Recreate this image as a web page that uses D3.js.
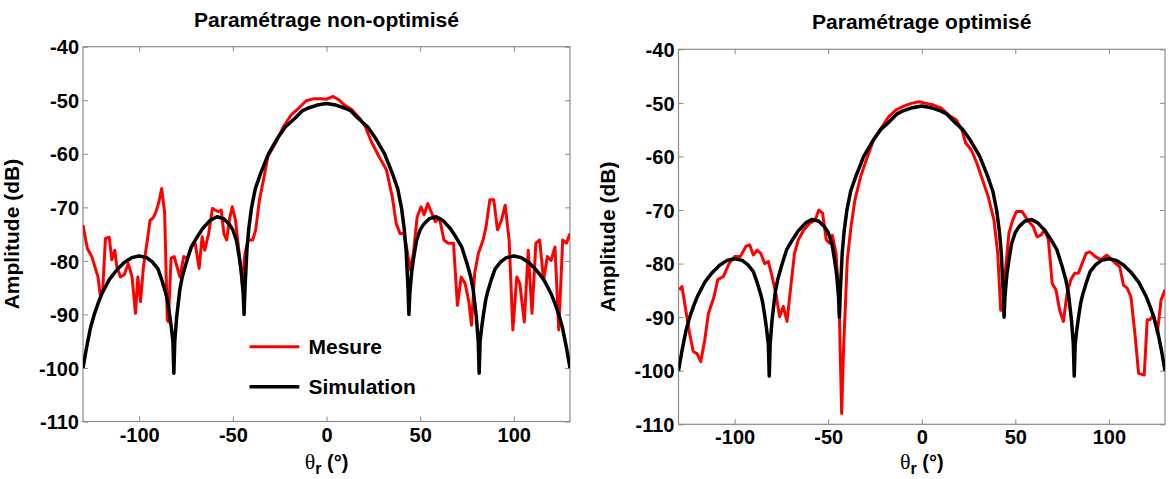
<!DOCTYPE html>
<html><head><meta charset="utf-8">
<script src="https://cdn.jsdelivr.net/npm/d3@7"></script>
<style>
html,body{margin:0;padding:0;background:#fff;}
svg{display:block;}
text{font-family:"Liberation Sans",Arial,sans-serif;font-weight:bold;fill:#000;}
</style></head>
<body>
<svg id="chart" width="1169" height="479"></svg>
<script>
// ---------- data ----------
const titles = ["Paramétrage non-optimisé", "Paramétrage optimisé"];
const yLabel = "Amplitude (dB)";
const legendLabels = ["Mesure", "Simulation"];
const xTicks = [-100, -50, 0, 50, 100];
const yTicks = [-40, -50, -60, -70, -80, -90, -100, -110];
const xDomain = [-130, 130];
const yDomain = [-110, -40];

// Simulation (same in both panels)
const simTheta = [-130,-128,-126,-124,-122,-120,-116,-112,-108,-104,-100,-96,-93,-90,-88,-86,-85,-84,-83,-82,-81.5,-81,-80,-79,-78.3,-77,-75,-72.2,-69,-66,-62,-58.5,-55,-52,-50,-48,-46.5,-45.5,-44.5,-44,-43.5,-43,-42.5,-41.5,-40,-38,-35,-31,-26,-22,-17,-13,-10,-5,0,
  5,10,13,17,22,26,31,35,38,40,41.5,42.5,43,43.5,44,44.5,45.5,46.5,48,50,52,55,58.5,62,66,69,72.2,75,77,78.3,79,80,81,81.5,82,83,84,85,86,88,90,93,96,100,104,108,112,116,120,122,124,126,128,130];
const simDb = [-100,-96,-92.5,-90,-88,-86.2,-83.5,-81.7,-80.3,-79.4,-79.1,-79.4,-80.2,-81.5,-83.5,-85.8,-87.3,-89.5,-92,-95,-101,-95,-90.5,-87.5,-85.4,-83,-80.5,-77.4,-75.5,-73.9,-72.4,-71.75,-72.1,-73.1,-74.2,-76.3,-79.5,-82,-86,-90,-85,-81.5,-78,-74,-70,-66.5,-63.5,-60,-57,-55,-53.4,-52,-51.5,-50.9,-50.6,
  -50.9,-51.5,-52,-53.4,-55,-57,-60,-63.5,-66.5,-70,-74,-78,-81.5,-85,-90,-86,-82,-79.5,-76.3,-74.2,-73.1,-72.1,-71.75,-72.4,-73.9,-75.5,-77.4,-80.5,-83,-85.4,-87.5,-90.5,-95,-101,-95,-92,-89.5,-87.3,-85.8,-83.5,-81.5,-80.2,-79.4,-79.1,-79.4,-80.3,-81.7,-83.5,-86.2,-88,-90,-92.5,-96,-100];

// Measurement, non-optimised
const mesATheta = [-130,-127.7,-125.3,-122,-120.8,-119.5,-118,-116,-114.6,-113,-112,-110,-108,-105.8,-103.8,-102,-100.7,-99.3,-97.7,-95.6,-94.2,-92.6,-91,-89.5,-88,-86.4,-85,-84.4,-83,-81.3,-79.9,-78.3,-76.2,-74.2,-72.1,-70.1,-68,-66.4,-65,-62.9,-60.9,-59.5,-57.8,-56.2,-54.8,-53.3,-51.7,-50.3,-48.6,-46.6,-45,-43.5,-41.9,-39.4,-37.8,-35.8,-33.3,-31.3,-27.2,-23.1,-19,-14.9,-10.8,-6.7,-2.7,0,3.5,6.5,9.6,13.7,17.8,20.8,23.9,28,32,35.1,37.2,39.2,41.3,43.3,44.7,46.4,48.4,50.5,52.1,54.1,56.2,58.2,60.3,62.7,64.8,67.8,69.9,71.9,74,76,77.4,79.1,81.1,83.6,85.2,87.2,89.3,91.3,93.4,95.4,97.5,99.5,101.6,103.2,105.6,107.7,109.7,111.8,113.8,115.9,117.9,119.9,122,124,126.1,128.1,130];
const mesADb = [-73.3,-77.7,-79.2,-83,-86.4,-85.5,-75.8,-75.6,-79.8,-78,-81,-83,-82.6,-80.5,-83,-89.8,-83,-87.6,-81,-76,-72.4,-72,-70.8,-69,-66.5,-71.1,-91,-91.4,-79.5,-79.2,-81,-83,-79.2,-79.5,-77.4,-76.7,-81.4,-75.5,-78,-74.9,-70.2,-70.5,-70.8,-70.5,-74.9,-76.1,-72,-69.9,-72.4,-78.6,-84.2,-78.6,-76.1,-76.1,-74.2,-68.6,-64.3,-60.5,-58,-55,-52.8,-51.5,-50.1,-49.7,-49.7,-49.8,-49.3,-49.9,-50.9,-51.8,-53.4,-55,-57.7,-60.5,-63,-68,-73,-74.9,-74.9,-78.6,-81.7,-78.6,-71.8,-69.9,-71.4,-69.3,-71.1,-72.7,-72,-76.1,-76.7,-76.7,-88.3,-83,-84.2,-87.6,-92,-82.3,-78.6,-76.1,-73.6,-68.6,-68.6,-74.2,-72.4,-69.6,-76.1,-92.9,-83,-84.2,-91.4,-78,-89.8,-76.7,-76.1,-83.6,-79.2,-79.9,-77.4,-92.9,-76.1,-76.7,-74.9];

// Measurement, optimised
const mesBTheta = [-129.7,-128.1,-126.1,-124.1,-122.1,-120.1,-118.1,-116,-114,-111,-109,-106,-103,-100,-97,-94,-92,-90,-88,-86,-84,-82,-80,-78,-76,-74,-72,-70,-68,-66,-63,-60,-57,-55,-53,-51,-49.2,-47.8,-45.8,-44.2,-42.8,-41.8,-39.8,-37.8,-35.7,-32.7,-29.7,-25.7,-21.7,-17.7,-13.7,-9.6,-5.6,-1.6,2.4,6.4,10.4,14.5,18.5,21.5,23.5,26.5,29.5,32.5,35.5,38.6,40.6,42.2,43.6,44.6,46.6,48.6,50.6,53.6,56.6,59.6,61.6,63.7,65.7,67.7,69.7,71.7,73.7,75.7,77.7,79.7,81.7,83.7,85.7,87.8,89.8,92.8,95.8,98.8,100.8,103.8,105.8,107.8,109.8,111.8,113.9,115.9,118.9,120.5,121.9,123.9,125.9,127.9,130];
const mesBDb = [-84.9,-84.3,-88.7,-93,-96.4,-96.8,-98.3,-94.3,-89.3,-86.2,-83,-82.4,-80,-78.7,-78.7,-76.8,-76.5,-78.4,-77.5,-78.1,-80,-79.6,-82.4,-85.5,-89.9,-88,-90.8,-84.3,-78.1,-75.6,-73.7,-72.5,-71.9,-70,-70.6,-75.6,-76.2,-74.7,-78.1,-86.8,-108,-96.1,-79.3,-73.1,-68.1,-63.8,-60.7,-56.9,-54.7,-52.6,-51.3,-50.6,-50.1,-49.8,-50.1,-50.4,-51,-52.3,-53.2,-55.1,-57.5,-58.8,-61.3,-64.4,-67.5,-71.9,-78.1,-88.7,-88.7,-81.8,-74.3,-71.9,-70.3,-70.3,-71.9,-73.1,-75,-74.7,-73.7,-75.6,-83.7,-84.9,-88.7,-90.8,-85.5,-83,-81.8,-81.8,-80,-78.1,-77.8,-78.7,-79.3,-78.4,-79,-80,-80.6,-84,-84.6,-86.2,-93,-100.5,-100.8,-90.5,-90.5,-89.6,-93,-86.8,-84.9];

// ---------- drawing ----------
const svg = d3.select("#chart");
const panels = [
  {x0: 83, x1: 570, y0: 46.7, y1: 421.5, title: titles[0], theta: mesATheta, db: mesADb, legend: true},
  {x0: 678.5, x1: 1165, y0: 49.3, y1: 424.3, title: titles[1], theta: mesBTheta, db: mesBDb, legend: false}
];
const simData = simTheta.map((t, i) => [t, simDb[i]]);
const fmt = d => String(d);

panels.forEach((p, pi) => {
  const x = d3.scaleLinear().domain(xDomain).range([p.x0, p.x1]);
  const y = d3.scaleLinear().domain(yDomain).range([p.y1, p.y0]);
  const g = svg.append("g");
  const clipId = "clip" + pi;
  g.append("clipPath").attr("id", clipId).append("rect")
    .attr("x", p.x0).attr("y", p.y0 - 2).attr("width", p.x1 - p.x0).attr("height", p.y1 - p.y0 + 4);

  // frame
  g.append("rect").attr("x", p.x0).attr("y", p.y0).attr("width", p.x1 - p.x0).attr("height", p.y1 - p.y0)
    .attr("fill", "none").attr("stroke", "#8a8a8a").attr("stroke-width", 1.2);

  // axes
  const axB = g.append("g").attr("transform", `translate(0,${p.y1})`)
    .call(d3.axisBottom(x).tickValues(xTicks).tickSizeInner(-5).tickSizeOuter(0).tickPadding(6).tickFormat(fmt));
  const axT = g.append("g").attr("transform", `translate(0,${p.y0})`)
    .call(d3.axisTop(x).tickValues(xTicks).tickSizeInner(-5).tickSizeOuter(0).tickFormat(""));
  const axL = g.append("g").attr("transform", `translate(${p.x0},0)`)
    .call(d3.axisLeft(y).tickValues(yTicks).tickSizeInner(-5).tickSizeOuter(0).tickPadding(4).tickFormat(fmt));
  const axR = g.append("g").attr("transform", `translate(${p.x1},0)`)
    .call(d3.axisRight(y).tickValues(yTicks).tickSizeInner(-5).tickSizeOuter(0).tickFormat(""));
  [axB, axT, axL, axR].forEach(a => {
    a.select(".domain").remove();
    a.selectAll(".tick line").attr("stroke", "#8a8a8a");
    a.selectAll("text").attr("font-family", "Liberation Sans, Arial, sans-serif")
      .attr("font-weight", "bold").attr("font-size", 20).attr("fill", "#000");
  });
  axL.selectAll("text").attr("dy", "0.36em");

  const line = d3.line().x(d => x(d[0])).y(d => y(d[1]));
  const lines = g.append("g").attr("clip-path", `url(#${clipId})`);
  lines.append("path").datum(p.theta.map((t, i) => [t, p.db[i]]))
    .attr("d", line).attr("fill", "none").attr("stroke", "#ff0000").attr("stroke-width", 3)
    .attr("stroke-linejoin", "round");
  lines.append("path").datum(simData)
    .attr("d", line).attr("fill", "none").attr("stroke", "#000").attr("stroke-width", 3.5)
    .attr("stroke-linejoin", "round");

  const cx = (p.x0 + p.x1) / 2;
  // title
  g.append("text").attr("x", cx).attr("y", p.y0 - 20).attr("text-anchor", "middle")
    .attr("font-size", 21).text(p.title);
  // y label
  g.append("text").attr("transform", `translate(${p.x0 - 64},${(p.y0 + p.y1) / 2}) rotate(-90)`)
    .attr("text-anchor", "middle").attr("font-size", 21).text(yLabel);
  // x label
  const xl = g.append("text").attr("x", cx).attr("y", Math.min(p.y1 + 47, 469)).attr("text-anchor", "middle").attr("font-size", 20);
  xl.append("tspan").attr("font-family", "Liberation Serif, serif").attr("font-weight", "normal").attr("font-size", 22).text("θ");
  xl.append("tspan").attr("dy", 5).attr("font-size", 16).text("r");
  xl.append("tspan").attr("dy", -5).text(" (°)");

  if (p.legend) {
    const ly0 = 346.7, ly1 = 386.7;
    const items = [{c: "#ff0000", w: 3, yy: ly0, t: legendLabels[0]}, {c: "#000", w: 3.5, yy: ly1, t: legendLabels[1]}];
    items.forEach(it => {
      g.append("line").attr("x1", 249.5).attr("x2", 299.3).attr("y1", it.yy).attr("y2", it.yy)
        .attr("stroke", it.c).attr("stroke-width", it.w);
      g.append("text").attr("x", 308.5).attr("y", it.yy).attr("dy", "0.36em").attr("font-size", 21).text(it.t);
    });
  }
});
</script>
</body></html>
